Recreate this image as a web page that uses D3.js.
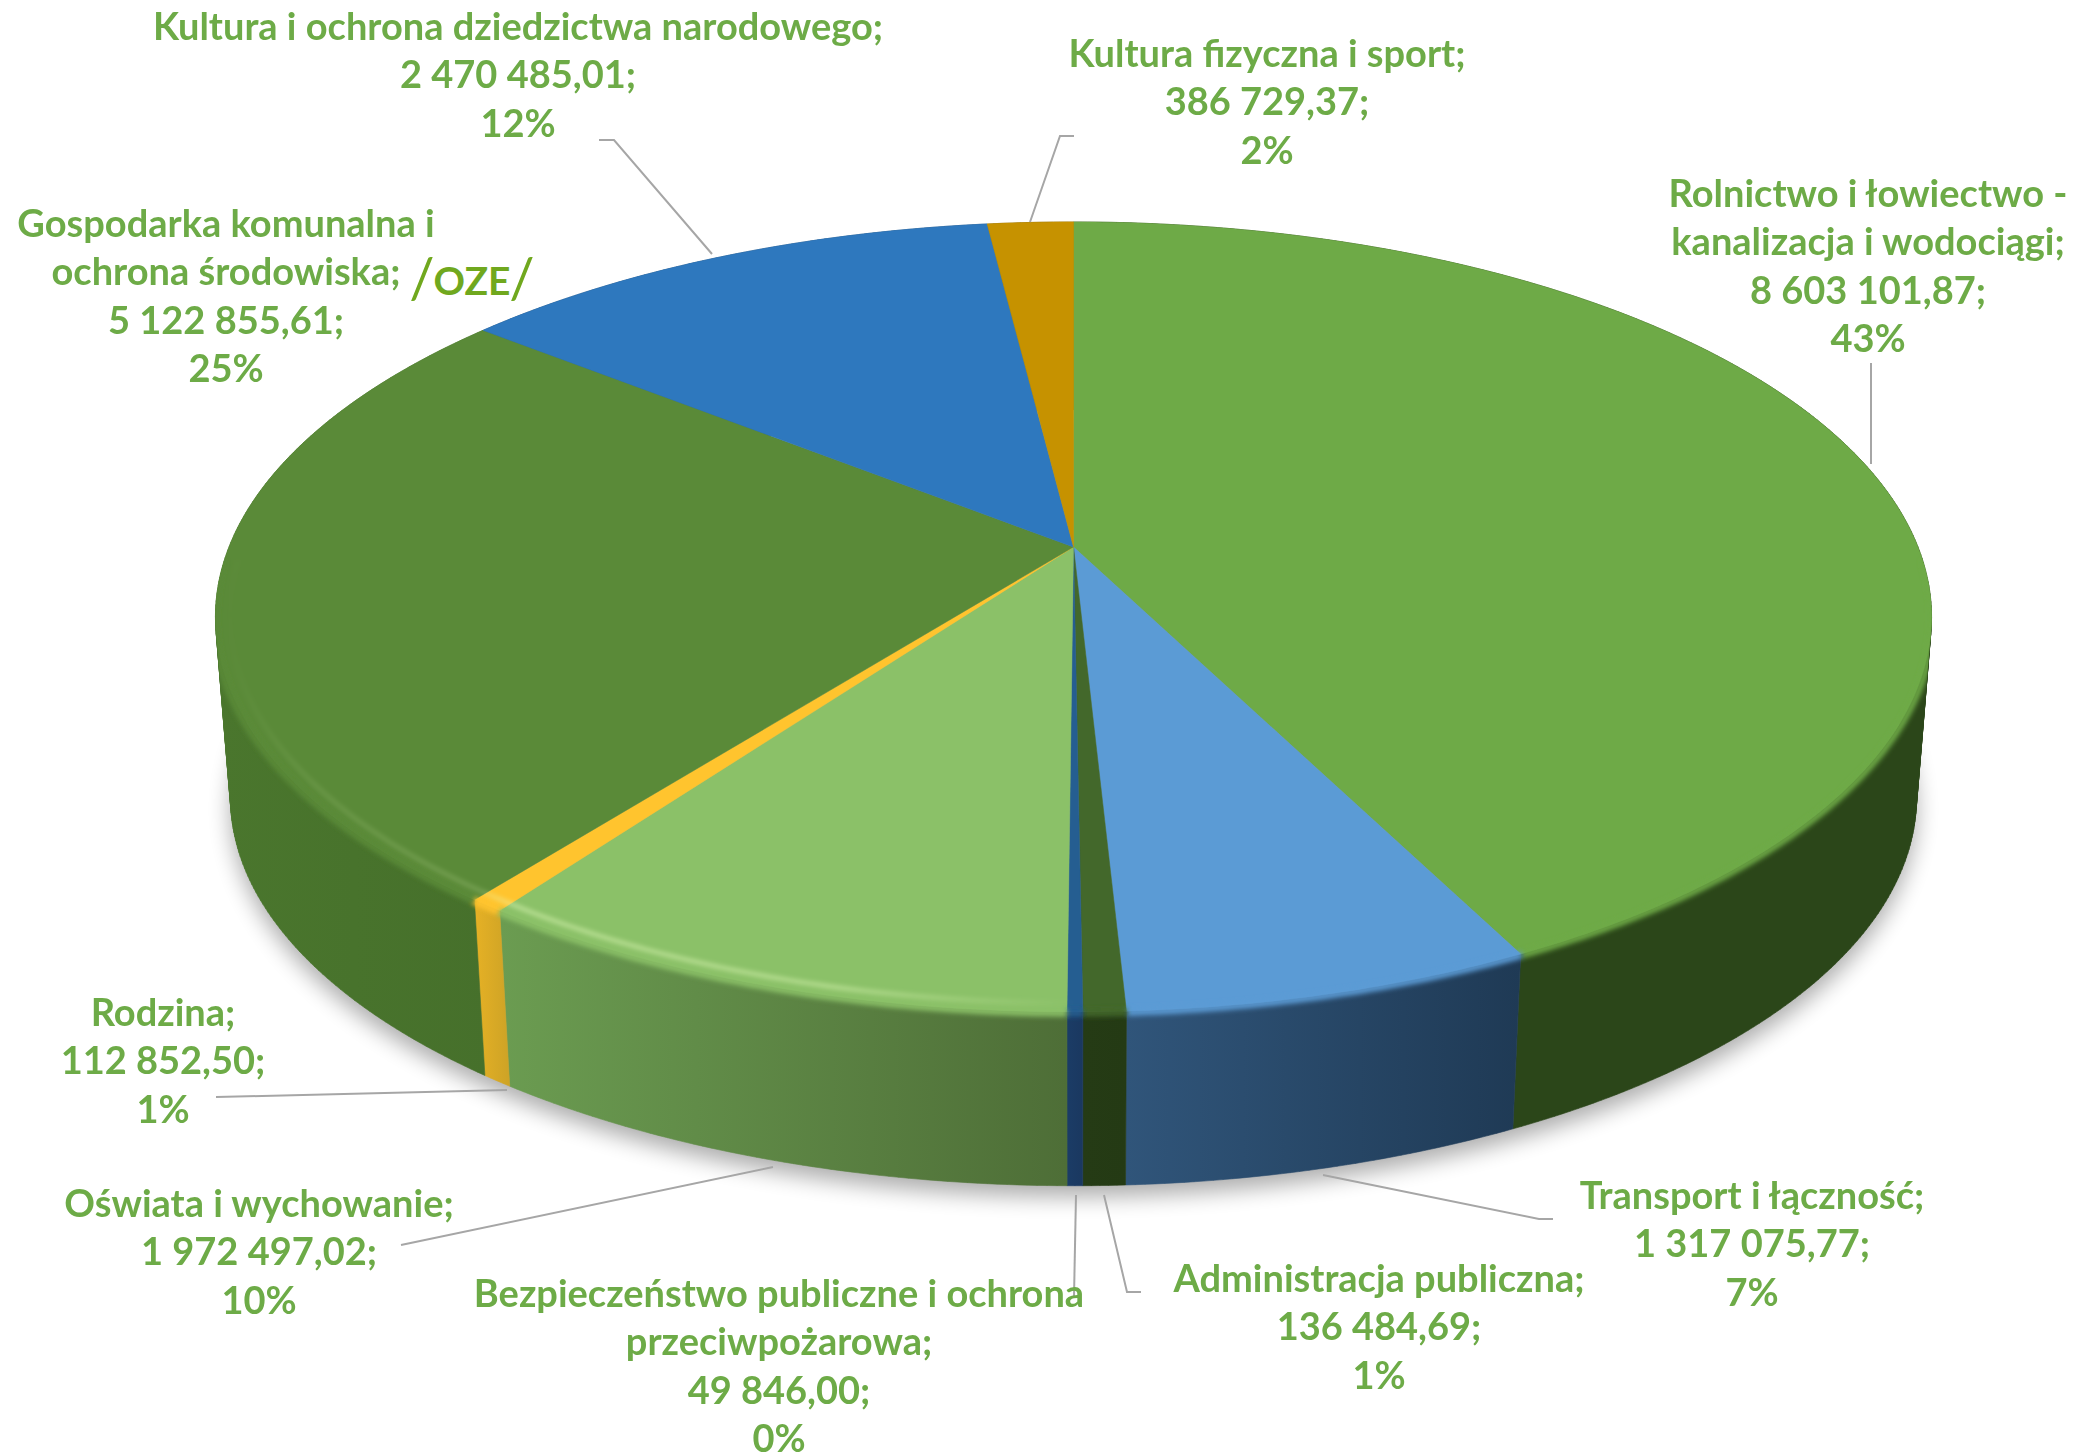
<!DOCTYPE html>
<html>
<head>
<meta charset="utf-8">
<script src="https://cdn.jsdelivr.net/npm/d3@7"></script>
<style>
  html, body { margin: 0; padding: 0; background: #fff; }
  svg { display: block; }
</style>
</head>
<body>
<div id="chart"></div>
<script>
// Data, clockwise from 12 o'clock
const categories = [
  ["Rolnictwo i łowiectwo -", "kanalizacja i wodociągi;"],
  ["Transport i łączność;"],
  ["Administracja publiczna;"],
  ["Bezpieczeństwo publiczne i ochrona", "przeciwpożarowa;"],
  ["Oświata i wychowanie;"],
  ["Rodzina;"],
  ["Gospodarka komunalna i", "ochrona środowiska;"],
  ["Kultura i ochrona dziedzictwa narodowego;"],
  ["Kultura fizyczna i sport;"],
];
const values = [
  8603101.87, 1317075.77, 136484.69, 49846.0, 1972497.02, 112852.5, 5122855.61,
  2470485.01, 386729.37,
];

// Colours
const topColors = [
  "#6eaa47", "#5b9bd5", "#43682b", "#255e91", "#8bc168", "#ffc42e", "#5a8a38",
  "#2e78be", "#c69200",
];
const wallLeft = [
  "#2b4619", "#30557a", "#253b15", "#1b3c66", "#6b9c51", "#e6b125", "#4a762d",
  "#1f4e79", "#7f6000",
];
const wallRight = [
  "#2b4619", "#1f3a55", "#243a14", "#1a3860", "#4e6e37", "#cda326", "#46702b",
  "#1f4e79", "#7f6000",
];

// Label layout: centre x, first baseline, leader polyline (same order as categories)
const labelX = [1868, 1752, 1379, 779, 259, 163, 226, 518, 1267];
const labelY = [207, 1209, 1292, 1307, 1217, 1026, 237, 40, 67];
const leaders = [
  [[1871, 363], [1871, 464]],
  [[1553, 1219], [1539, 1219], [1323, 1175]],
  [[1141, 1292], [1127, 1292], [1104, 1195]],
  [[1074, 1297], [1076, 1195]],
  [[401, 1245], [773, 1167]],
  [[216, 1097], [507, 1090]],
  [],
  [[599, 140], [614, 140], [712, 254]],
  [[1074, 136], [1060, 136], [1030, 222]],
];

const width = 2091;
const height = 1455;
const lineGap = 48.3;

// Perspective disc: top and bottom planes of the pie
const cx = 1073.5;
const tilt = 0.177;
const topPlane = { y: 547, a: 844.5, b: 382.6 };
const bottomPlane = { y: 729, a: 829.7, b: 375.9 };

const project = (angle, r, plane) => {
  const px = r * Math.sin(angle);
  const py = -r * Math.cos(angle);
  const w = 1 - tilt * py;
  return [cx + (plane.a * px) / w, plane.y + (plane.b * py) / w];
};

const arcPoints = (a0, a1, r, plane) => {
  const n = Math.max(2, Math.ceil(Math.abs(a1 - a0) / 0.01));
  return d3.range(n + 1).map((i) => project(a0 + ((a1 - a0) * i) / n, r, plane));
};

const line = d3.line();
const arcs = d3.pie().sort(null).value((d) => d)(values);
const total = d3.sum(values);

const plFormat = d3.formatLocale({
  decimal: ",",
  thousands: " ",
  grouping: [3],
  currency: ["", ""],
}).format(",.2f");
const pctFormat = d3.format(".0%");

const svg = d3
  .select("#chart")
  .append("svg")
  .attr("width", width)
  .attr("height", height)
  .style("background", "#fff");

const defs = svg.append("defs");
const addBlur = (id, dev) =>
  defs
    .append("filter")
    .attr("id", id)
    .attr("filterUnits", "userSpaceOnUse")
    .attr("x", 0)
    .attr("y", 0)
    .attr("width", width)
    .attr("height", height)
    .append("feGaussianBlur")
    .attr("stdDeviation", dev);
addBlur("blurShadow", 11);
addBlur("blurRim", 2.6);
addBlur("blurGlow", 2);
addBlur("blurText", 0.45);

// Everything soft on the rim stays inside the pie's outline
const pieClip = defs.append("clipPath").attr("id", "pieClip");

// Shadow under the pie
svg
  .append("path")
  .attr("d", line(arcPoints(0, 2 * Math.PI, 1, { ...bottomPlane, y: bottomPlane.y + 11 })) + "Z")
  .attr("fill", "#000")
  .attr("opacity", 0.32)
  .attr("filter", "url(#blurShadow)");

// Side walls: small quads between the two rims, all wound the same way
arcs.forEach((d, i) => {
  const rimTop = arcPoints(d.startAngle, d.endAngle, 1, topPlane);
  const rimBottom = arcPoints(d.startAngle, d.endAngle, 1, bottomPlane);
  const quads = d3.range(rimTop.length - 1).map((k) => {
    const q = [rimTop[k], rimTop[k + 1], rimBottom[k + 1], rimBottom[k]];
    return d3.polygonArea(q) < 0 ? q.reverse() : q;
  });
  const wallPath = quads.map((q) => line(q) + "Z").join("");
  const xs = rimTop.concat(rimBottom).map((p) => p[0]);
  const grad = defs
    .append("linearGradient")
    .attr("id", `wall${i}`)
    .attr("gradientUnits", "userSpaceOnUse")
    .attr("x1", d3.min(xs))
    .attr("x2", d3.max(xs))
    .attr("y1", 0)
    .attr("y2", 0);
  grad.append("stop").attr("offset", 0).attr("stop-color", wallLeft[i]);
  grad.append("stop").attr("offset", 1).attr("stop-color", wallRight[i]);
  svg
    .append("path")
    .attr("d", wallPath)
    .attr("fill", `url(#wall${i})`)
    .attr("stroke", `url(#wall${i})`)
    .attr("stroke-width", 0.6);
  pieClip.append("path").attr("d", wallPath);
});

// Top face
arcs.forEach((d, i) => {
  const pts = [project(0, 0, topPlane)].concat(
    arcPoints(d.startAngle, d.endAngle, 1, topPlane)
  );
  svg
    .append("path")
    .attr("d", line(pts) + "Z")
    .attr("fill", topColors[i])
    .attr("stroke", topColors[i])
    .attr("stroke-width", 0.5);
  pieClip.append("path").attr("d", line(pts) + "Z");
});

// Soft bevel along the front of the rim
const bevel = svg.append("g").attr("clip-path", "url(#pieClip)");
const rimFrom = (92 * Math.PI) / 180;
const rimTo = (268 * Math.PI) / 180;
arcs.forEach((d, i) => {
  const a0 = Math.max(d.startAngle, rimFrom);
  const a1 = Math.min(d.endAngle, rimTo);
  if (a1 <= a0) return;
  bevel
    .append("path")
    .attr("d", line(arcPoints(a0, a1, 1.002, topPlane)))
    .attr("fill", "none")
    .attr("stroke", topColors[i])
    .attr("stroke-width", 7)
    .attr("filter", "url(#blurRim)");
});

const glow = defs
  .append("linearGradient")
  .attr("id", "rimGlow")
  .attr("gradientUnits", "userSpaceOnUse")
  .attr("x1", 225)
  .attr("x2", 1075)
  .attr("y1", 0)
  .attr("y2", 0);
[
  [0, 0],
  [0.12, 0.1],
  [0.3, 0.16],
  [0.34, 0.42],
  [0.72, 0.38],
  [1, 0],
].forEach(([o, a]) =>
  glow.append("stop").attr("offset", o).attr("stop-color", "#e8ffc0").attr("stop-opacity", a)
);
bevel
  .append("path")
  .attr("d", line(arcPoints(Math.PI, (268 * Math.PI) / 180, 0.984, topPlane)))
  .attr("fill", "none")
  .attr("stroke", "url(#rimGlow)")
  .attr("stroke-width", 5)
  .attr("filter", "url(#blurGlow)");

// Leader lines
svg
  .append("g")
  .attr("filter", "url(#blurText)")
  .selectAll("path")
  .data(leaders.filter((l) => l.length))
  .enter()
  .append("path")
  .attr("d", (d) => line(d))
  .attr("fill", "none")
  .attr("stroke", "#a6a6a6")
  .attr("stroke-width", 2);

// Data labels
const labels = svg
  .append("g")
  .attr("filter", "url(#blurText)")
  .attr("font-family", "Lato, 'Open Sans', sans-serif")
  .attr("font-weight", 700)
  .attr("font-size", 38)
  .attr("fill", "#6dab46")
  .attr("text-anchor", "middle");

categories.forEach((name, i) => {
  const rows = name.concat([plFormat(values[i]) + ";", pctFormat(values[i] / total)]);
  rows.forEach((row, j) => {
    labels
      .append("text")
      .attr("x", labelX[i])
      .attr("y", labelY[i] + j * lineGap)
      .text(row);
  });
});

// Hand-written note beside the Gospodarka label
const note = svg
  .append("g")
  .attr("font-family", "Lato, sans-serif")
  .attr("fill", "#70a81e")
  .attr("text-anchor", "middle");
[
  ["/", 422, 298, 56, 400],
  ["OZE", 472, 295, 39, 700],
  ["/", 522, 298, 56, 400],
].forEach(([t, x, y, size, weight]) =>
  note
    .append("text")
    .attr("x", x)
    .attr("y", y)
    .attr("font-size", size)
    .attr("font-weight", weight)
    .text(t)
);
</script>
</body>
</html>
